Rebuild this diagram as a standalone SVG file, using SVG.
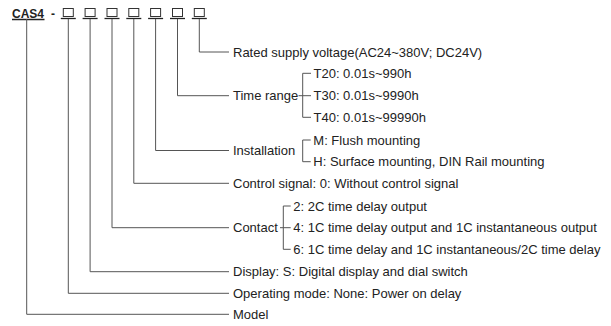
<svg xmlns="http://www.w3.org/2000/svg" width="611" height="326" viewBox="0 0 611 326">
<style>
.t{font-family:"Liberation Sans",Arial,sans-serif;font-size:13px;fill:#222}
.b{font-family:"Liberation Sans",Arial,sans-serif;font-size:12px;font-weight:bold;fill:#222}
.c{fill:none;stroke:#555;stroke-width:1}
.box{fill:none;stroke:#333;stroke-width:1}
.u{stroke:#222;stroke-width:1.3}
</style>
<rect width="611" height="326" fill="#fff"/>
<g id="code">
<text class="b" x="12" y="17.5">CAS4</text>
<line class="u" x1="12" y1="19.5" x2="44.5" y2="19.5"/>
<text class="b" x="51" y="17.5">-</text>
<g id="boxes">
<rect class="box" x="63.3" y="8.5" width="10" height="8"/><line class="u" x1="60.8" y1="18.5" x2="75.8" y2="18.5"/>
<rect class="box" x="85.1" y="8.5" width="10" height="8"/><line class="u" x1="82.6" y1="18.5" x2="97.6" y2="18.5"/>
<rect class="box" x="107" y="8.5" width="10" height="8"/><line class="u" x1="104.5" y1="18.5" x2="119.5" y2="18.5"/>
<rect class="box" x="128.8" y="8.5" width="10" height="8"/><line class="u" x1="126.3" y1="18.5" x2="141.3" y2="18.5"/>
<rect class="box" x="150.6" y="8.5" width="10" height="8"/><line class="u" x1="148.1" y1="18.5" x2="163.1" y2="18.5"/>
<rect class="box" x="172.5" y="8.5" width="10" height="8"/><line class="u" x1="170" y1="18.5" x2="185" y2="18.5"/>
<rect class="box" x="194.3" y="8.5" width="10" height="8"/><line class="u" x1="191.8" y1="18.5" x2="206.8" y2="18.5"/>
</g>
</g>
<g id="connectors">
<path class="c" d="M199.3,19V52H229"/>
<path class="c" d="M177.5,19V95.7H229"/>
<path class="c" d="M155.6,19V150.5H229"/>
<path class="c" d="M133.8,19V183.3H229"/>
<path class="c" d="M112,19V227.7H229"/>
<path class="c" d="M90.1,19V271.7H229"/>
<path class="c" d="M68.3,19V293.3H229"/>
<path class="c" d="M26.7,19V314.3H229"/>
<path class="c" d="M311,73.3H302.7V117.3H311M298.5,95.7H311"/>
<path class="c" d="M310.7,140H302.7V161.7H310.7"/>
<path class="c" d="M290.7,206H283.3V249.3H290.7M280,227.7H290.7"/>
</g>
<g id="rated"><text class="t" x="233" y="56.6">Rated supply voltage(AC24~380V; DC24V)</text></g>
<g id="time">
<text class="t" x="233" y="100.3">Time range</text>
<text class="t" x="313.5" y="77.9">T20: 0.01s~990h</text>
<text class="t" x="313.5" y="100.3">T30: 0.01s~9990h</text>
<text class="t" x="313.5" y="121.9">T40: 0.01s~99990h</text>
</g>
<g id="installation">
<text class="t" x="233" y="155.1">Installation</text>
<text class="t" x="313.3" y="144.6">M: Flush mounting</text>
<text class="t" x="313.3" y="166.3">H: Surface mounting, DIN Rail mounting</text>
</g>
<g id="control"><text class="t" x="233" y="187.9">Control signal: 0: Without control signal</text></g>
<g id="contact">
<text class="t" x="233" y="232.3">Contact</text>
<text class="t" x="293.3" y="210.6">2: 2C time delay output</text>
<text class="t" x="293.3" y="232.3">4: 1C time delay output and 1C instantaneous output</text>
<text class="t" x="293.3" y="253.9">6: 1C time delay and 1C instantaneous/2C time delay</text>
</g>
<g id="display"><text class="t" x="233" y="276.3">Display: S: Digital display and dial switch</text></g>
<g id="operating"><text class="t" x="233" y="297.9">Operating mode: None: Power on delay</text></g>
<g id="model"><text class="t" x="233" y="318.9">Model</text></g>
</svg>
